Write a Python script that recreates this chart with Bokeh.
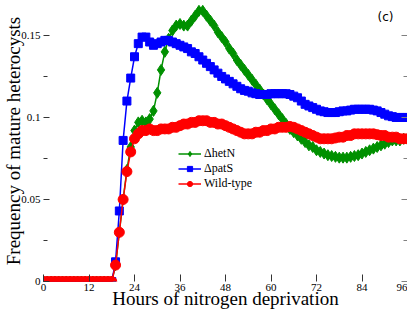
from bokeh.plotting import figure
from bokeh.models import (Range1d, FixedTicker, LinearAxis, Legend, LegendItem,
                          Label, CustomJSTickFormatter)
from bokeh.embed import file_html
from bokeh.resources import INLINE

# ---------------- data ----------------
hours = list(range(0, 97))

het_n = [0, 0, 0, 0, 0, 0, 0, 0, 0, 0, 0, 0, 0, 0, 0, 0, 0, 0, 0,
         0.010, 0.030, 0.050, 0.068, 0.082, 0.092, 0.097, 0.098, 0.097, 0.099,
         0.104, 0.115, 0.129, 0.140, 0.148, 0.153, 0.156, 0.157, 0.156, 0.156,
         0.159, 0.162, 0.165, 0.165, 0.162, 0.159, 0.156, 0.152, 0.149, 0.146,
         0.142, 0.139, 0.135, 0.132, 0.129, 0.126, 0.123, 0.120, 0.117, 0.114,
         0.111, 0.108, 0.105, 0.102, 0.099, 0.096, 0.093, 0.091, 0.089, 0.087,
         0.085, 0.083, 0.082, 0.080, 0.079, 0.078, 0.077, 0.0765, 0.076, 0.0755,
         0.0755, 0.0755, 0.076, 0.0765, 0.077, 0.078, 0.079, 0.080, 0.081, 0.082,
         0.083, 0.084, 0.085, 0.086, 0.086, 0.086, 0.087, 0.087]

pat_s = [0, 0, 0, 0, 0, 0, 0, 0, 0, 0, 0, 0, 0, 0, 0, 0, 0, 0, 0,
         0.012, 0.043, 0.086, 0.110, 0.124, 0.137, 0.145, 0.149, 0.149, 0.146,
         0.144, 0.145, 0.146, 0.147, 0.147, 0.146, 0.145, 0.144, 0.143, 0.142,
         0.140, 0.139, 0.137, 0.135, 0.133, 0.131, 0.129, 0.127, 0.125, 0.1235,
         0.122, 0.1205, 0.119, 0.1175, 0.1165, 0.116, 0.115, 0.1145, 0.114, 0.114,
         0.114, 0.1145, 0.1145, 0.1145, 0.1145, 0.1145, 0.114, 0.113, 0.112, 0.110,
         0.108, 0.107, 0.106, 0.105, 0.104, 0.1035, 0.103, 0.103, 0.103, 0.1035,
         0.104, 0.104, 0.1045, 0.105, 0.105, 0.105, 0.105, 0.105, 0.1045, 0.104,
         0.103, 0.102, 0.101, 0.1005, 0.100, 0.100, 0.100, 0.100]

wild_type = [0, 0, 0, 0, 0, 0, 0, 0, 0, 0, 0, 0, 0, 0, 0, 0, 0, 0, 0,
             0.010, 0.030, 0.050, 0.067, 0.079, 0.087, 0.090, 0.092, 0.092, 0.093,
             0.092, 0.092, 0.093, 0.093, 0.093, 0.094, 0.094, 0.095, 0.096, 0.096,
             0.097, 0.097, 0.098, 0.098, 0.098, 0.097, 0.097, 0.096, 0.096, 0.095,
             0.094, 0.093, 0.092, 0.091, 0.090, 0.090, 0.090, 0.091, 0.091, 0.092,
             0.092, 0.093, 0.093, 0.094, 0.094, 0.094, 0.0945, 0.094, 0.093, 0.092,
             0.091, 0.090, 0.089, 0.088, 0.087, 0.087, 0.087, 0.087, 0.0875, 0.088,
             0.088, 0.089, 0.089, 0.090, 0.090, 0.090, 0.090, 0.090, 0.090, 0.0895,
             0.089, 0.089, 0.088, 0.088, 0.088, 0.087, 0.087, 0.087]

x_ticks = [0, 12, 24, 36, 48, 60, 72, 84, 96]
y_ticks = [0, 0.05, 0.1, 0.15]
y_minor = [0.025, 0.075, 0.125]
labels = ["\u0394hetN", "\u0394patS", "Wild-type"]

assert len(het_n) == len(pat_s) == len(wild_type) == len(hours)

SERIF = "Liberation Serif"
GREEN = "#009000"
BLUE = "#0000ff"
RED = "#ff0000"

p = figure(width=407, height=311, output_backend="svg", toolbar_location=None,
           x_range=Range1d(0, 96), y_range=Range1d(0, 0.1713),
           min_border_left=36, min_border_right=0, min_border_top=0,
           min_border_bottom=0)
p.outline_line_color = None
p.grid.visible = False
p.background_fill_color = "white"

# series
g_line = p.line(hours, het_n, line_color=GREEN, line_width=1.5)
g_pts = p.scatter(hours, het_n, marker="diamond", size=11, fill_color=GREEN,
                  line_color=GREEN)
b_line = p.line(hours, pat_s, line_color=BLUE, line_width=1.5)
b_pts = p.scatter(hours, pat_s, marker="square", size=8, fill_color=BLUE,
                  line_color=BLUE)
r_line = p.line(hours, wild_type, line_color=RED, line_width=1.5)
r_pts = p.scatter(hours, wild_type, marker="circle", size=10, fill_color=RED,
                  line_color=RED)

fmt = CustomJSTickFormatter(code="return String(Math.round(tick*1000)/1000);")

xa = p.xaxis[0]
xa.ticker = FixedTicker(ticks=x_ticks, minor_ticks=[])
xa.axis_line_color = None
xa.major_tick_in = 7
xa.major_tick_out = 0
xa.minor_tick_in = 0
xa.minor_tick_out = 0
xa.major_tick_line_color = "#333333"
xa.major_label_text_font = SERIF
xa.major_label_text_font_size = "11px"
xa.major_label_text_color = "black"
xa.major_label_standoff = 2
xa.axis_label = "Hours of nitrogen deprivation"
xa.axis_label_text_font = SERIF
xa.axis_label_text_font_size = "19px"
xa.axis_label_text_font_style = "normal"
xa.axis_label_text_color = "black"
xa.axis_label_standoff = -6

ya = p.yaxis[0]
ya.ticker = FixedTicker(ticks=y_ticks, minor_ticks=y_minor)
ya.formatter = fmt
ya.axis_line_color = None
ya.major_tick_in = 6
ya.major_tick_out = 0
ya.minor_tick_in = 4
ya.minor_tick_out = 0
ya.major_tick_line_color = "#333333"
ya.minor_tick_line_color = "#333333"
ya.major_label_text_font = SERIF
ya.major_label_text_font_size = "11px"
ya.major_label_text_color = "black"
ya.major_label_standoff = 3
ya.axis_label = "Frequency of mature heterocysts"
ya.axis_label_text_font = SERIF
ya.axis_label_text_font_size = "19px"
ya.axis_label_text_font_style = "normal"
ya.axis_label_text_color = "black"
ya.axis_label_standoff = -6

ra = LinearAxis(ticker=FixedTicker(ticks=y_ticks, minor_ticks=y_minor),
                formatter=CustomJSTickFormatter(code="return '';"))
ra.axis_line_color = "#808080"
ra.major_tick_in = 6
ra.major_tick_out = 0
ra.minor_tick_in = 4
ra.minor_tick_out = 0
ra.major_tick_line_color = "#808080"
ra.minor_tick_line_color = "#808080"
ra.major_label_text_font_size = "0px"
ra.major_label_standoff = 0
p.add_layout(ra, "right")

legend = Legend(items=[LegendItem(label=labels[0], renderers=[g_line, g_pts]),
                       LegendItem(label=labels[1], renderers=[b_line, b_pts]),
                       LegendItem(label=labels[2], renderers=[r_line, r_pts])],
                location=(135, 90))
legend.background_fill_alpha = 0
legend.border_line_color = None
legend.label_text_font = SERIF
legend.label_text_font_size = "12px"
legend.label_text_color = "black"
legend.glyph_width = 23
legend.glyph_height = 13
legend.label_height = 13
legend.label_standoff = 3
legend.spacing = 0
legend.padding = 0
legend.margin = 0
p.add_layout(legend)

p.add_layout(Label(x=90.2, y=0.161, text="(c)", text_font="DejaVu Sans",
                   text_font_size="12px", text_align="center",
                   text_baseline="middle", text_color="black"))

open("out.html", "w").write(file_html(p, INLINE))
